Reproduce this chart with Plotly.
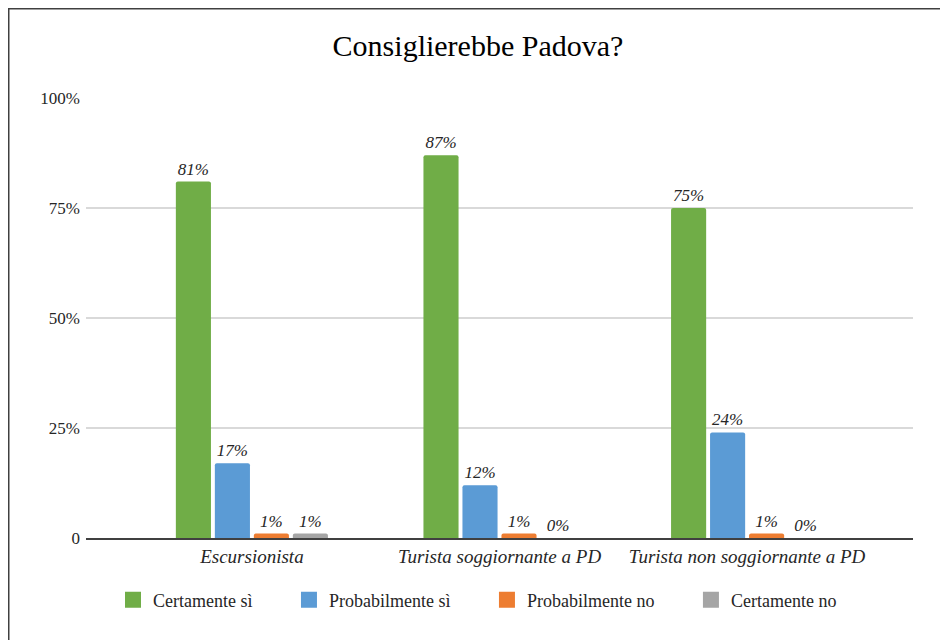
import plotly.graph_objects as go

categories = ["Escursionista", "Turista soggiornante a PD", "Turista non soggiornante a PD"]
series_names = ["Certamente sì", "Probabilmente sì", "Probabilmente no", "Certamente no"]
certamente_si = [81, 87, 75]
probabilmente_si = [17, 12, 24]
probabilmente_no = [1, 1, 1]
certamente_no = [1, 0, 0]
y_ticks = [0, 25, 50, 75, 100]
y_tick_labels = ["0", "25%", "50%", "75%", "100%"]

colors = ["#70AD47", "#5B9BD5", "#ED7D31", "#A5A5A5"]
series_values = [certamente_si, probabilmente_si, probabilmente_no, certamente_no]

FONT = "Liberation Serif"
x_pos = list(range(len(categories)))

# page has an 8px body margin, so the figure is drawn 8px smaller
W, H = 940, 632
L, R, T, B = 78, 35, 90, 102
pw, ph = W - L - R, H - T - B

fig = go.Figure()
for i, (name, vals, col) in enumerate(zip(series_names, series_values, colors)):
    fig.add_trace(go.Bar(
        x=x_pos,
        y=vals,
        name=name,
        marker=dict(color=col, cornerradius=2, line=dict(width=0)),
        text=[f"{v}%" for v in vals],
        textposition="outside",
        textfont=dict(family=FONT, size=17, color="#262626", style="italic"),
        cliponaxis=False,
        showlegend=False,
    ))
    # bigger square legend symbols, padded to widen the gaps
    pad = "&nbsp;" * 7 if i < len(series_names) - 1 else ""
    fig.add_trace(go.Scatter(
        x=[None], y=[None],
        mode="markers",
        name=name + pad,
        marker=dict(symbol="square", size=19, color=col),
    ))

fig.update_layout(
    width=W,
    height=H,
    margin=dict(l=L, r=R, t=T, b=B),
    paper_bgcolor="white",
    plot_bgcolor="white",
    barmode="group",
    bargap=0.37,
    bargroupgap=0.1,
    font=dict(family=FONT, size=16, color="#262626"),
    title=dict(
        text="Consiglierebbe Padova?",
        x=0.5, xanchor="center",
        y=1 - 37 / H, yanchor="middle",
        font=dict(family=FONT, size=30, color="#000000"),
    ),
    legend=dict(
        orientation="h",
        x=(469.5 - L) / pw, xanchor="center",
        y=-(592 - (H - B)) / ph, yanchor="middle",
        font=dict(family=FONT, size=18, color="#262626"),
        itemwidth=30,
    ),
    shapes=[dict(
        type="rect", xref="paper", yref="paper",
        x0=(0.75 - L) / pw, x1=(1000 - L) / pw,
        y0=-0.5, y1=1 + (T - 0.75) / ph,
        line=dict(color="#404040", width=1.5),
        layer="below",
    )],
)

fig.update_xaxes(
    tickvals=x_pos,
    ticktext=[f"<i>{c}</i>" for c in categories],
    range=[-0.67, 2.67],
    showgrid=False,
    showline=True,
    linecolor="#404040",
    linewidth=1.5,
    ticks="",
    tickfont=dict(family=FONT, size=19, color="#262626"),
    zeroline=False,
)
fig.update_yaxes(
    range=[0, 100],
    tickvals=y_ticks,
    ticktext=y_tick_labels,
    showgrid=True,
    gridcolor="#D9D9D9",
    gridwidth=1.5,
    zeroline=False,
    ticks="",
    ticklabelstandoff=5,
    tickfont=dict(family=FONT, size=17, color="#262626"),
)

fig.write_html("out.html")
